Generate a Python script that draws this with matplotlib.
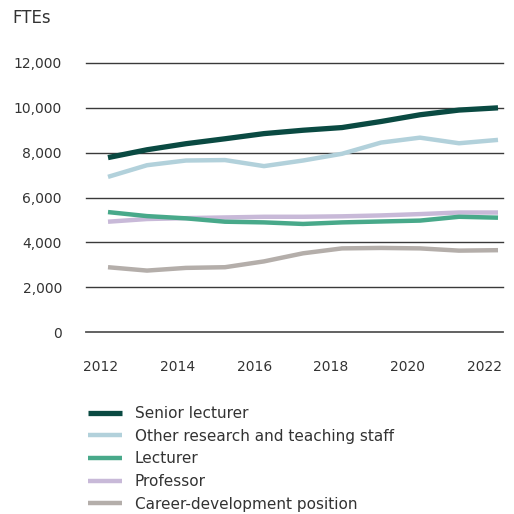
import matplotlib
matplotlib.use("Agg")
import matplotlib.pyplot as plt
from matplotlib.lines import Line2D
from matplotlib.transforms import ScaledTranslation

years = list(range(2012, 2023))
senior_lecturer = [7780, 8130, 8400, 8620, 8850, 9000, 9120, 9390, 9690, 9900, 10000]
other_staff = [6920, 7440, 7650, 7670, 7400, 7650, 7950, 8450, 8670, 8420, 8570]
lecturer = [5350, 5170, 5070, 4920, 4890, 4820, 4890, 4930, 4970, 5140, 5100]
professor = [4920, 5040, 5080, 5110, 5140, 5140, 5160, 5200, 5260, 5330, 5330]
career_dev = [2890, 2740, 2860, 2890, 3150, 3510, 3730, 3750, 3730, 3630, 3650]

series_names = ["Senior lecturer", "Other research and teaching staff", "Lecturer",
                "Professor", "Career-development position"]
y_ticks = [0, 2000, 4000, 6000, 8000, 10000, 12000]
y_tick_labels = ["0", "2,000", "4,000", "6,000", "8,000", "10,000", "12,000"]
x_ticks = [2012, 2014, 2016, 2018, 2020, 2022]

colors = ["#0a4a42", "#b2d1db", "#48a98a", "#c8b9d8", "#b4aeaa"]
widths = [3.8, 3.2, 3.2, 3.2, 3.2]

plt.rcParams['font.family'] = ['DejaVu Sans']
text_color = "#333333"

fig = plt.figure(figsize=(5.14, 5.14), dpi=100)
ax = fig.add_axes([86/514, 1-332/514, (503-86)/514, (332-63)/514])

for y in y_ticks:
    ax.axhline(y, color="#555555" if y == 0 else "#3a3a3a",
               lw=1.3 if y == 0 else 1.0, zorder=1, clip_on=False)

data = [senior_lecturer, other_staff, lecturer, professor, career_dev]
order = [4, 3, 2, 1, 0]
for i in order:
    ax.plot(years, data[i], color=colors[i], lw=widths[i], solid_capstyle="butt",
            clip_on=False, zorder=3 + (5 - i))

ax.set_xlim(2012 - 22/39, 2022 + 5/39)
ax.set_ylim(0, 12000)
ax.set_yticks(y_ticks)
ax.set_yticklabels(y_tick_labels)
ax.set_xticks(x_ticks)
ax.tick_params(axis="both", length=0, labelsize=10, colors=text_color)
ax.tick_params(axis="y", pad=17.3)
ax.tick_params(axis="x", pad=20)
for s in ax.spines.values():
    s.set_visible(False)

# slight leftward drift of the year labels as in the reference
for yr, lab in zip(x_ticks, ax.get_xticklabels()):
    dx = (-7 - (yr - 2012) / 10 * 7) / 100.0
    lab.set_transform(lab.get_transform() + ScaledTranslation(dx, 0, fig.dpi_scale_trans))

fig.text(12/514, 1-18/514, "FTEs", fontsize=12, color=text_color, va="center", ha="left")

handles = [Line2D([0], [0], color=colors[i], lw=widths[i], solid_capstyle="butt") for i in range(5)]
leg = fig.legend(handles, series_names, loc="upper left",
                 bbox_to_anchor=(88/514, 1-406/514), frameon=False,
                 fontsize=11, handlelength=2.22, handletextpad=0.85,
                 labelspacing=0.5, borderaxespad=0, borderpad=0)
for t in leg.get_texts():
    t.set_color(text_color)

fig.savefig("out.png", dpi=100)
